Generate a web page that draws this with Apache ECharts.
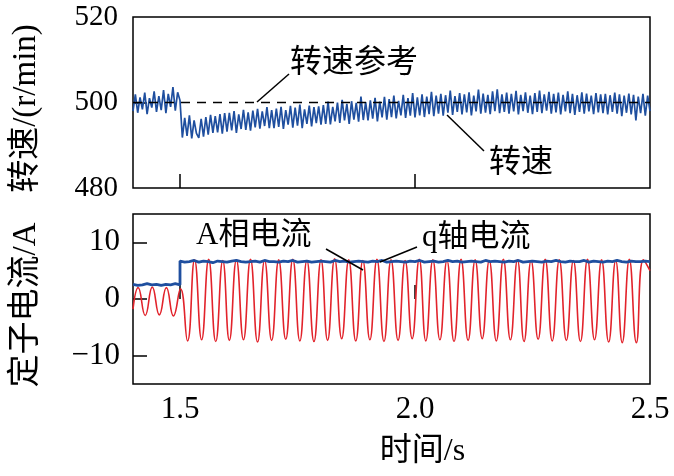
<!DOCTYPE html>
<html><head><meta charset="utf-8">
<script src="https://cdn.jsdelivr.net/npm/echarts@6/dist/echarts.min.js"></script>
<style>html,body{margin:0;padding:0;background:#fff}#c{width:674px;height:476px}</style>
</head><body><div id="c"></div>
<script>
// ---- data ----
const xTicks = [1.5, 2.0, 2.5];
const speedTicks = [480, 500, 520];
const currentTicks = [-10, 0, 10];
const speedRef = 500;
// speed samples, one every 0.005 s from 1.400 s to 2.500 s (r/min)
const speedStart = 1.4, speedStep = 0.005;
const speed = [
498.0,501.9,497.6,501.2,498.4,502.3,497.3,501.0,498.8,502.6,497.8,501.5,498.2,502.9,497.5,502.0,499.0,503.6,498.1,502.4,
500.5,491.8,496.4,492.2,497.0,491.6,495.8,492.8,491.7,496.2,492.0,496.6,492.5,497.1,492.9,496.8,493.0,497.3,492.7,497.5,
493.2,497.6,493.5,498.0,492.9,497.2,493.8,498.3,493.6,497.7,493.4,498.1,494.2,498.5,493.9,497.9,494.5,498.9,494.0,498.2,
494.0,498.6,494.3,499.0,493.8,498.2,494.8,499.2,494.1,498.8,494.6,499.5,494.0,498.4,495.0,499.3,494.4,498.9,495.2,499.1,
494.8,499.4,495.0,500.2,494.9,499.0,495.6,500.0,495.2,500.6,495.8,499.7,495.0,500.3,496.0,499.9,495.5,501.4,495.9,500.1,
495.8,500.5,496.2,501.1,495.6,500.2,496.5,501.3,496.0,500.8,496.6,501.6,496.3,500.4,497.0,501.8,496.4,501.0,496.9,502.2,
496.5,501.2,497.0,501.9,496.6,501.4,497.3,502.5,496.8,501.6,497.4,502.0,496.9,501.7,497.6,502.8,497.1,501.5,497.8,502.2,
497.2,501.9,497.7,502.4,497.0,501.6,497.9,503.0,497.4,502.1,497.6,501.8,497.3,502.6,498.0,503.1,497.5,501.9,497.8,502.3,
497.4,502.0,497.9,502.7,497.2,501.8,498.0,502.4,497.6,501.6,497.3,502.2,497.8,502.8,497.5,501.9,498.1,502.5,497.4,502.0,
497.7,502.3,497.2,501.8,497.9,502.6,497.5,502.0,497.1,501.7,497.8,502.4,497.4,502.1,497.9,501.6,497.3,502.2,497.7,501.9,
497.5,502.0,497.2,501.7,497.8,502.3,497.4,501.9,496.8,501.6,497.6,502.1,497.2,501.8,495.8,501.4,497.5,502.0,496.9,501.6,
498.0];
// A-phase current: times (s) and values (A) of the wave's turning points
const phaseAT = [1.400,1.411,1.426,1.441,1.456,1.471,1.486,1.501,1.516,1.531,1.546,1.561,1.576,1.591,1.605,1.620,1.635,1.650,1.665,1.680,
1.695,1.710,1.725,1.740,1.755,1.770,1.785,1.800,1.814,1.829,1.844,1.859,1.874,1.889,1.904,1.919,1.934,1.949,1.964,1.979,
1.994,2.009,2.023,2.038,2.053,2.068,2.083,2.098,2.113,2.128,2.143,2.158,2.173,2.188,2.203,2.218,2.232,2.247,2.262,2.277,
2.292,2.307,2.322,2.337,2.352,2.367,2.382,2.397,2.412,2.427,2.441,2.456,2.471,2.486,2.500];
const phaseA = [-1.8,2.0,-2.9,2.1,-2.8,2.0,-3.0,1.8,-7.4,6.9,-7.2,7.0,-7.5,6.8,-7.3,6.9,-7.2,7.0,-7.6,6.8,
-7.3,6.9,-7.1,7.0,-7.4,6.8,-7.5,6.9,-7.3,7.1,-7.0,6.9,-7.4,6.8,-7.2,7.0,-7.5,6.9,-7.3,6.8,
-7.0,7.0,-7.4,6.9,-7.2,6.8,-7.5,7.0,-7.3,6.9,-7.0,6.8,-7.4,7.0,-7.2,6.9,-7.5,6.8,-7.1,7.0,
-7.4,6.9,-7.3,6.8,-7.5,7.0,-7.2,6.9,-7.6,6.8,-7.7,7.0,-7.7,6.9,5.0];
// q-axis current, one sample every 0.01 s, before (1.40-1.50) and after (1.50-2.50) the step
const qStep = 0.01;
const qBefore = [2.6,2.4,2.5,2.7,2.5,2.6,2.4,2.6,2.5,2.7,2.5];
const qAfter = [
6.7,6.5,6.6,6.8,6.5,6.7,6.6,6.4,6.7,6.6,
6.5,6.7,6.8,6.6,6.5,6.6,6.7,6.5,6.8,6.6,
6.6,6.5,6.7,6.6,6.8,6.5,6.6,6.7,6.5,6.6,
6.7,6.6,6.5,6.8,6.6,6.7,6.5,6.6,6.7,6.6,
6.5,6.7,6.6,6.8,6.5,6.6,6.7,6.6,6.5,6.7,
6.6,6.8,6.5,6.6,6.7,6.5,6.6,6.8,6.6,6.7,
6.5,6.6,6.7,6.6,6.5,6.8,6.6,6.7,6.6,6.5,
6.7,6.6,6.8,6.5,6.6,6.7,6.6,6.5,6.7,6.6,
6.8,6.6,6.5,6.7,6.6,6.6,6.8,6.5,6.7,6.6,
6.5,6.7,6.6,6.8,6.6,6.5,6.7,6.6,6.6,6.7,
6.6];
const xMin = 1.4, xMax = 2.5, stepTime = 1.5;

// ---- build ----
const r3 = v => Math.round(v * 1000) / 1000;
const speedData = speed.map((v, i) => [r3(speedStart + i * speedStep), v]);
const refData = [[xMin, speedRef], [xMax, speedRef]];
const phaseAData = phaseAT.map((t, i) => [t, phaseA[i]]);
const qData = qBefore.map((v, i) => [r3(xMin + i * qStep), v])
  .concat(qAfter.map((v, i) => [r3(stepTime + i * qStep), v]));

const BLUE = '#1f4f9f', RED = '#e2232b';
const SERIF = '"Liberation Serif","Times New Roman","Noto Sans CJK SC",serif';
const tickStyle = {show: true, inside: true, length: 14, lineStyle: {color: '#000', width: 1.5}};

const chart = echarts.init(document.getElementById('c'), null, {renderer: 'canvas'});
chart.setOption({
  backgroundColor: '#fff',
  animation: false,
  grid: [
    {left: 133, top: 17, width: 517, height: 171, show: true, borderColor: '#000', borderWidth: 1.5},
    {left: 133, top: 214, width: 517, height: 170, show: true, borderColor: '#000', borderWidth: 1.5}
  ],
  xAxis: [
    {type: 'value', gridIndex: 0, min: xMin, max: xMax, axisLine: {show: false},
     axisTick: Object.assign({}, tickStyle, {customValues: [1.5, 2.0]}),
     axisLabel: {show: false}, splitLine: {show: false}},
    {type: 'value', gridIndex: 1, min: xMin, max: xMax, axisLine: {show: false},
     axisTick: Object.assign({}, tickStyle, {customValues: [1.5, 2.0]}),
     axisLabel: {customValues: xTicks, formatter: v => v.toFixed(1), fontFamily: SERIF, fontSize: 31, color: '#000', margin: 10},
     splitLine: {show: false},
     name: '时间/s', nameLocation: 'middle', nameGap: 52,
     nameTextStyle: {fontFamily: SERIF, fontSize: 32, color: '#000', padding: [0, 0, 0, 62]}}
  ],
  yAxis: [
    {type: 'value', gridIndex: 0, min: 480, max: 520, axisLine: {show: false},
     axisTick: Object.assign({}, tickStyle, {customValues: [500]}),
     axisLabel: {customValues: speedTicks, fontFamily: SERIF, fontSize: 29, color: '#000', margin: 15},
     splitLine: {show: false},
     name: '转速/(r/min)', nameLocation: 'middle', nameGap: 90, nameRotate: 90,
     nameTextStyle: {fontFamily: SERIF, fontSize: 33, color: '#000', padding: [0, 12, 0, 0]}},
    {type: 'value', gridIndex: 1, min: -15, max: 15, axisLine: {show: false},
     axisTick: Object.assign({}, tickStyle, {customValues: currentTicks}),
     axisLabel: {customValues: currentTicks, formatter: v => v < 0 ? '\u2212' + Math.abs(v) : String(v),
       fontFamily: SERIF, fontSize: 31, color: '#000', margin: 13},
     splitLine: {show: false},
     name: '定子电流/A', nameLocation: 'middle', nameGap: 90, nameRotate: 90,
     nameTextStyle: {fontFamily: SERIF, fontSize: 33, color: '#000', padding: [0, 12, 0, 0]}}
  ],
  series: [
    {type: 'line', xAxisIndex: 0, yAxisIndex: 0, data: speedData, showSymbol: false,
     lineStyle: {color: BLUE, width: 1.7}, z: 2},
    {type: 'line', xAxisIndex: 0, yAxisIndex: 0, data: refData, showSymbol: false,
     lineStyle: {color: '#000', width: 1.3, type: [9, 7]}, z: 3},
    {type: 'line', xAxisIndex: 1, yAxisIndex: 1, data: phaseAData, showSymbol: false, smooth: 0.5,
     lineStyle: {color: RED, width: 1.6}, z: 2},
    {type: 'line', xAxisIndex: 1, yAxisIndex: 1, data: qData, showSymbol: false,
     lineStyle: {color: BLUE, width: 2.8}, z: 3}
  ],
  graphic: [
    {type: 'text', left: 290, top: 44, style: {text: '转速参考', font: '32px "Noto Sans CJK SC"', fill: '#000'}},
    {type: 'line', shape: {x1: 257, y1: 102, x2: 289, y2: 74}, style: {stroke: '#000', lineWidth: 1.5}, z: 10},
    {type: 'text', left: 489, top: 144, style: {text: '转速', font: '32px "Noto Sans CJK SC"', fill: '#000'}},
    {type: 'line', shape: {x1: 447, y1: 115, x2: 484, y2: 151}, style: {stroke: '#000', lineWidth: 1.5}, z: 10},
    {type: 'text', left: 196, top: 220, style: {text: 'A相电流', font: '31px "Liberation Serif","Noto Sans CJK SC"', fill: '#000'}},
    {type: 'line', shape: {x1: 326, y1: 249, x2: 363, y2: 270}, style: {stroke: '#000', lineWidth: 1.5}, z: 10},
    {type: 'text', left: 422, top: 222, style: {text: 'q轴电流', font: '31px "Liberation Serif","Noto Sans CJK SC"', fill: '#000'}},
    {type: 'line', shape: {x1: 380, y1: 262, x2: 417, y2: 247}, style: {stroke: '#000', lineWidth: 1.5}, z: 10}
  ]
});
</script></body></html>
